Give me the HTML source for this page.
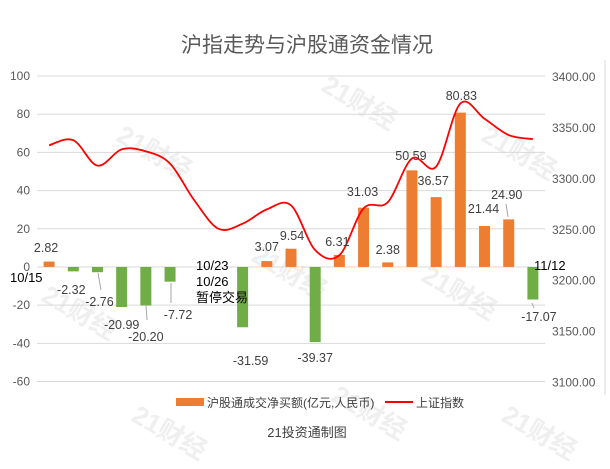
<!DOCTYPE html>
<html><head><meta charset="utf-8"><style>
body{margin:0;background:#fff}
svg{display:block;font-family:"Liberation Sans","Noto Sans CJK SC",sans-serif}
</style></head><body>
<svg id="c" width="610" height="469">
<rect x="0" y="0" width="610" height="469" fill="#fff"/>
<text x="307" y="52" font-size="21" fill="#595959" text-anchor="middle">沪指走势与沪股通资金情况</text>
<g id="wm" fill="#efefef" font-size="26" font-weight="bold"></g>
<g id="grid"></g>
<g id="bars"></g>
<g id="line"></g>
<g id="labels" font-size="12.5" fill="#404040"></g>
<g font-size="13" fill="#000">
<text x="10" y="282">10/15</text>
<text x="196" y="270">10/23</text>
<text x="196" y="286">10/26</text>
<text x="196" y="302">暂停交易</text>
<text x="534" y="270">11/12</text>
</g>
<line x1="605" y1="60" x2="605" y2="395" stroke="#d9d9d9"/>
<g>
<rect x="176" y="398" width="28" height="8" fill="#ED7D31"/>
<text x="207" y="407" font-size="12" fill="#404040">沪股通成交净买额(亿元,人民币)</text>
<line x1="385" y1="402" x2="413" y2="402" stroke="#FF0000" stroke-width="2"/>
<text x="416" y="407" font-size="12" fill="#404040">上证指数</text>
</g>
<text x="307" y="437" font-size="13" fill="#404040" text-anchor="middle">21投资通制图</text>
</svg>
<script>
const categories=["10/15","10/16","10/17","10/18","10/19","10/22","10/23","10/26","10/27","10/28","10/29","10/30","11/2","11/3","11/4","11/5","11/6","11/9","11/10","11/11","11/12"];
const flowValues=[2.82,-2.32,-2.76,-20.99,-20.20,-7.72,null,null,-31.59,3.07,9.54,-39.37,6.31,31.03,2.38,50.59,36.57,80.83,21.44,24.90,-17.07];
const indexValues=[3332,3337,3312,3328,3326,3314,3278,3250,3255,3269,3273,3229,3224,3270,3276,3319,3311,3373,3358,3342,3338];
const leftTicks=[100,80,60,40,20,0,-20,-40,-60];
const rightTicks=[3400,3350,3300,3250,3200,3150,3100];
const NS="http://www.w3.org/2000/svg";
const plotL=37,plotR=545,plotT=76,plotB=381.5;
const bw=(plotR-plotL)/categories.length;
const xC=i=>plotL+bw*(i+0.5);
const yL=v=>plotT+(100-v)/160*(plotB-plotT);
const yR=v=>plotT+(3400-v)/300*(plotB-plotT);
function mk(tag,attrs,parent,text){const e=document.createElementNS(NS,tag);for(const k in attrs)e.setAttribute(k,attrs[k]);if(text!=null)e.textContent=text;parent.appendChild(e);return e;}
const grid=document.getElementById('grid');
leftTicks.forEach(t=>{
 const l=mk('line',{x1:plotL,x2:plotR,y1:yL(t),y2:yL(t),stroke:'#d9d9d9'},grid);
 
 
 const tx=mk('text',{x:30,y:yL(t)+4,'font-size':12,fill:'#595959','text-anchor':'end'},grid,t);
 
 
});
rightTicks.forEach(t=>{
 const tx=mk('text',{x:552,y:yR(t)+5,'font-size':12,fill:'#595959'},grid,t.toFixed(2));
 
 
});
const bars=document.getElementById('bars');
flowValues.forEach((v,i)=>{
 if(v==null)return;
 const y0=yL(0),y1=yL(v);
 const r=mk('rect',{x:xC(i)-5.5,y:Math.min(y0,y1),width:11,height:Math.abs(y1-y0),fill:v>=0?'#ED7D31':'#70AD47'},bars);
 
 
});
const pts=indexValues.map((v,i)=>[xC(i),yR(v)]);
let d='M'+pts[0][0]+','+pts[0][1];
for(let i=0;i<pts.length-1;i++){
 const p0=pts[Math.max(0,i-1)],p1=pts[i],p2=pts[i+1],p3=pts[Math.min(pts.length-1,i+2)];
 const c1=[p1[0]+(p2[0]-p0[0])/6,p1[1]+(p2[1]-p0[1])/6];
 const c2=[p2[0]-(p3[0]-p1[0])/6,p2[1]-(p3[1]-p1[1])/6];
 d+=' C'+c1+' '+c2+' '+p2;
}
const path=mk('path',{d:d,fill:'none',stroke:'#FF0000','stroke-width':1.8},document.getElementById('line'));


const labelOffsets=[[-3,-19],[-2,23],[2,35],[0,58],[0,70],[8,48],null,null,[8,94],[0,-20],[1,-31],[0,91],[-2,-25],[-1,-75],[0,-17],[-1,-111],[-3,-86],[1,-171],[-1,-58],[-2,-72],[6,50]];
const lg=document.getElementById('labels');
flowValues.forEach((v,i)=>{
 if(v==null)return;
 const o=labelOffsets[i];
 const t=mk('text',{x:xC(i)+o[0],y:yL(0)+o[1]+4,'text-anchor':'middle'},lg,v.toFixed(2));
 
 
});
[[98,273,101,290],[171,283,171,303],[146,305,147,320],[506,204,508,217],[532,303,534,308]].forEach(a=>{
 const l=mk('line',{x1:a[0],y1:a[1],x2:a[2],y2:a[3],stroke:'#a6a6a6'},lg);
 
 
});
const wm=document.getElementById('wm');
[[115,140],[320,90],[480,140],[40,300],[250,260],[420,280],[130,420],[330,400],[500,420]].forEach(p=>{
 const t=mk('text',{x:p[0],y:p[1],transform:'rotate(30 '+p[0]+' '+p[1]+')'},wm,'21财经');
 
 
});
</script>
</body></html>
